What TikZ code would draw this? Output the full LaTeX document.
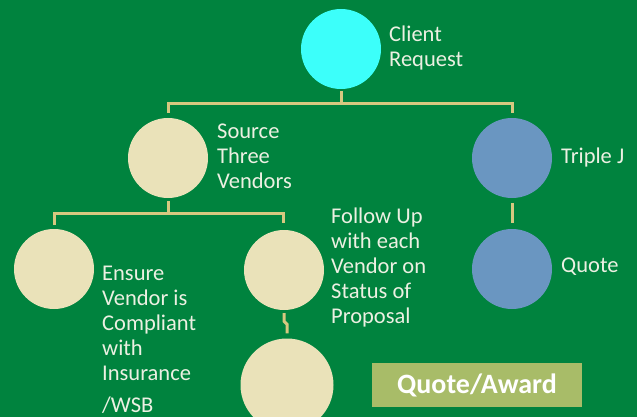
\documentclass[tikz,border=0pt]{standalone}
\usepackage{fontspec}
\setmainfont{Carlito}
\definecolor{bggreen}{RGB}{0,131,62}
\definecolor{cyanfill}{RGB}{60,255,250}
\definecolor{beigefill}{RGB}{234,226,185}
\definecolor{bluefill}{RGB}{106,150,193}
\definecolor{linecol}{RGB}{214,200,128}
\definecolor{labelcol}{RGB}{236,240,226}
\definecolor{boxfill}{RGB}{168,188,104}
\tikzset{
  bubble/.style={circle, minimum size=80pt, inner sep=0pt, draw=none},
  conn/.style={draw=linecol, line width=3pt},
  lbl/.style={anchor=base west, inner sep=0pt, text=labelcol, font=\fontsize{22.5}{25}\selectfont},
}
\newcommand{\lines}[1]{\begin{tabular}[t]{@{}l@{}}#1\end{tabular}}
\begin{document}
\begin{tikzpicture}[x=1pt,y=-1pt]
\fill[bggreen] (0,0) rectangle (637,417);
\useasboundingbox (0,0) rectangle (637,417);
\renewcommand{\arraystretch}{1}
% circles
\node[bubble, fill=cyanfill] (client) at (341,49) {};
\node[bubble, fill=beigefill] (source) at (168,158) {};
\node[bubble, fill=bluefill] (triple) at (512,158) {};
\node[bubble, fill=beigefill] (ensure) at (54,269) {};
\node[bubble, fill=beigefill] (follow) at (284,270) {};
\node[bubble, fill=bluefill] (quote) at (512,269) {};
\node[bubble, fill=beigefill, minimum size=93pt] (award) at (287,385) {};
% connectors
\draw[conn] ([yshift=-2pt]client.south) -- (client.south |- 0,104);
\draw[conn] ([yshift=5pt]source.north) -- (source.north |- 0,104) -- (triple.north |- 0,104) -- ([yshift=5pt]triple.north);
\draw[conn] ([yshift=-3pt]source.south) -- (source.south |- 0,213);
\draw[conn] ([yshift=4pt]ensure.north) -- (ensure.north |- 0,213) -- ([xshift=-1pt]follow.north |- 0,213) -- ([xshift=-1pt,yshift=7pt]follow.north);
\draw[conn] ([yshift=-5pt]triple.south) -- ([yshift=6pt]quote.north);
\draw[conn] ([yshift=-3pt]follow.south) -- ++(0,8) -- ++(3,3) |- ([yshift=5pt]award.north);
% labels
\node[lbl] (tclient) at (389,42) {\lines{Client\\Request}};
\node[lbl] (tsource) at (217,139) {\lines{Source\\Three\\Vendors}};
\node[lbl] (ttriple) at (561,163) {Triple J};
\node[lbl] (tensure) at (102,280) {\lines{Ensure\\Vendor is\\Compliant\\with\\Insurance\\[7pt]/WSB}};
\node[lbl] (tfollow) at (331,223) {\lines{Follow Up\\with each\\Vendor on\\Status of\\Proposal}};
\node[lbl] (tquote) at (561,272) {Quote};
% box
\node[fill=boxfill, minimum width=210pt, minimum height=44pt, inner sep=0pt, text=white, font=\fontsize{28}{30}\selectfont\bfseries] (qa) at (477,385) {Quote/Award};
\end{tikzpicture}
\end{document}
